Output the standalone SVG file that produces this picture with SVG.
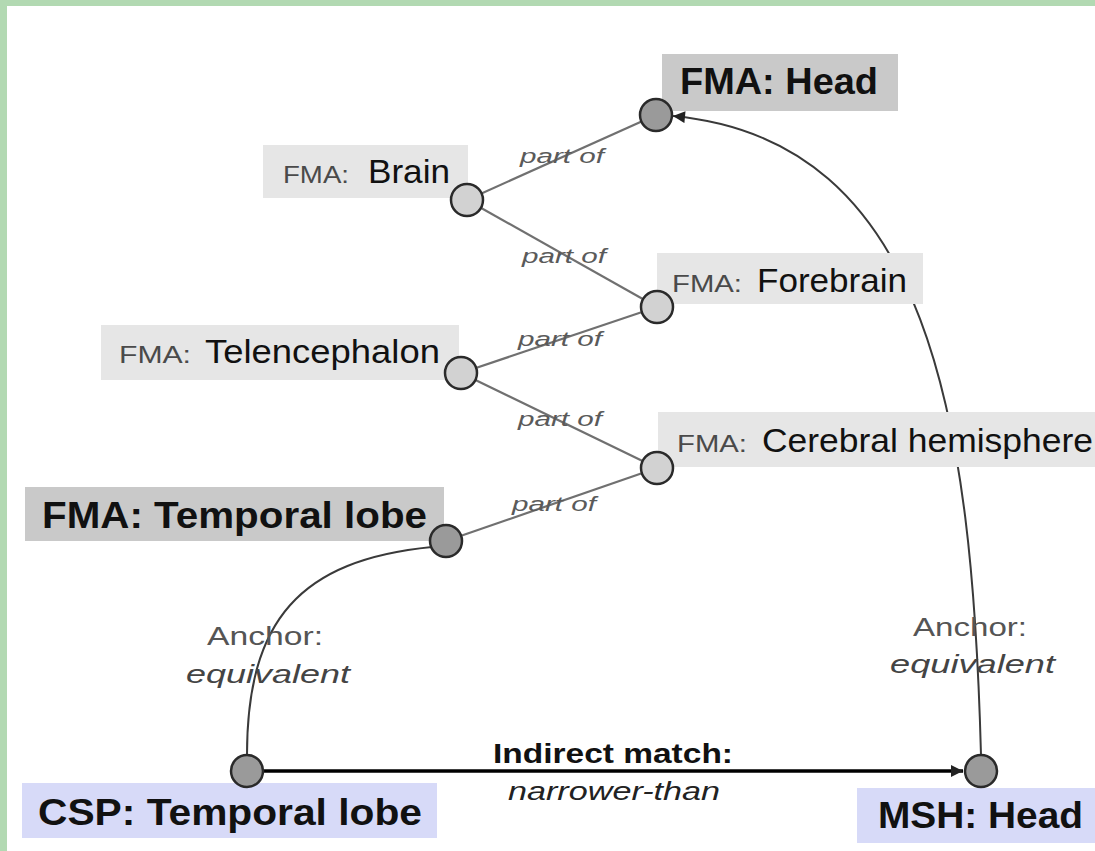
<svg xmlns="http://www.w3.org/2000/svg" width="1095" height="851" viewBox="0 0 1095 851">
  <style>
    text { font-family: "Liberation Sans", Arial, Helvetica, sans-serif; }
    .box-anchor { fill: #c9c9c9; }
    .box-fma { fill: #e6e6e6; }
    .box-src { fill: #d7daf8; }
    .dot-dark { fill: #9a9a9a; stroke: #2a2a2a; stroke-width: 2.5; }
    .dot-light { fill: #d2d2d2; stroke: #2a2a2a; stroke-width: 2.5; }
    .t-big { font-size: 36px; font-weight: bold; fill: #111; }
    .t-pre { font-size: 23px; fill: #4a4a4a; }
    .t-main { font-size: 34px; fill: #111; }
    .partof { stroke: #707070; stroke-width: 2.2; fill: none; }
    .anchor { stroke: #3a3a3a; stroke-width: 2; fill: none; }
    .match { stroke: #000; stroke-width: 3.5; fill: none; }
    .elbl { font-size: 20px; font-style: italic; fill: #5a5a5a; }
    .albl { font-size: 26px; fill: #555; }
    .albl-i { font-size: 26px; font-style: italic; fill: #444; }
    .mlbl { font-size: 27px; font-weight: bold; fill: #111; }
    .mlbl-i { font-size: 26px; font-style: italic; fill: #222; }
  </style>
  <defs>
    <marker id="arrow" viewBox="0 0 10 10" refX="10" refY="5" markerUnits="userSpaceOnUse" markerWidth="14" markerHeight="12" orient="auto">
      <path d="M0,0 L10,5 L0,10 z" fill="#222"/>
    </marker>
  </defs>

  <!-- page frame -->
  <rect x="0" y="0" width="1095" height="851" fill="#b2d9b2"/>
  <rect x="7" y="6" width="1088" height="845" fill="#ffffff"/>

  <!-- connectors -->
  <g id="connectors">
    <line class="partof" x1="467" y1="200" x2="656" y2="115"/>
    <line class="partof" x1="467" y1="200" x2="657" y2="307"/>
    <line class="partof" x1="461" y1="373" x2="657" y2="307"/>
    <line class="partof" x1="461" y1="373" x2="657" y2="468"/>
    <line class="partof" x1="446" y1="541" x2="657" y2="468"/>
    <path class="anchor" d="M247,755 C247,620 300,560 432,547"/>
    <path class="anchor" d="M981,755 C972,420 930,140 673,116" marker-end="url(#arrow)"/>
    <line class="match" x1="264" y1="771" x2="963" y2="771" marker-end="url(#arrow)"/>

    <text class="elbl" x="520" y="163" textLength="84" lengthAdjust="spacingAndGlyphs">part of</text>
    <text class="elbl" x="522" y="263" textLength="84" lengthAdjust="spacingAndGlyphs">part of</text>
    <text class="elbl" x="518" y="346" textLength="84" lengthAdjust="spacingAndGlyphs">part of</text>
    <text class="elbl" x="518" y="426" textLength="84" lengthAdjust="spacingAndGlyphs">part of</text>
    <text class="elbl" x="512" y="511" textLength="84" lengthAdjust="spacingAndGlyphs">part of</text>

    <text class="albl" x="207" y="645" textLength="116" lengthAdjust="spacingAndGlyphs">Anchor:</text>
    <text class="albl-i" x="186" y="683" textLength="164" lengthAdjust="spacingAndGlyphs">equivalent</text>
    <text class="albl" x="913" y="636" textLength="114" lengthAdjust="spacingAndGlyphs">Anchor:</text>
    <text class="albl-i" x="890" y="673" textLength="165" lengthAdjust="spacingAndGlyphs">equivalent</text>

    <text class="mlbl" x="493" y="763" textLength="240" lengthAdjust="spacingAndGlyphs">Indirect match:</text>
    <text class="mlbl-i" x="508" y="800" textLength="212" lengthAdjust="spacingAndGlyphs">narrower-than</text>
  </g>

  <!-- FMA nodes -->
  <g id="fma-head">
    <rect class="box-anchor" x="662" y="54" width="236" height="57"/>
    <text class="t-big" x="680" y="94" textLength="198" lengthAdjust="spacingAndGlyphs">FMA: Head</text>
    <circle class="dot-dark" cx="656" cy="115" r="16"/>
  </g>

  <g id="fma-brain">
    <rect class="box-fma" x="263" y="145" width="205" height="53"/>
    <text class="t-pre" x="283" y="183" textLength="66" lengthAdjust="spacingAndGlyphs">FMA:</text>
    <text class="t-main" x="368" y="183" textLength="82" lengthAdjust="spacingAndGlyphs">Brain</text>
    <circle class="dot-light" cx="467" cy="200" r="16"/>
  </g>

  <g id="fma-forebrain">
    <rect class="box-fma" x="657" y="253" width="266" height="51"/>
    <text class="t-pre" x="672" y="292" textLength="70" lengthAdjust="spacingAndGlyphs">FMA:</text>
    <text class="t-main" x="757" y="292" textLength="150" lengthAdjust="spacingAndGlyphs">Forebrain</text>
    <circle class="dot-light" cx="657" cy="307" r="16"/>
  </g>

  <g id="fma-telencephalon">
    <rect class="box-fma" x="101" y="325" width="358" height="55"/>
    <text class="t-pre" x="119" y="363" textLength="72" lengthAdjust="spacingAndGlyphs">FMA:</text>
    <text class="t-main" x="205" y="363" textLength="235" lengthAdjust="spacingAndGlyphs">Telencephalon</text>
    <circle class="dot-light" cx="461" cy="373" r="16"/>
  </g>

  <g id="fma-cerebral-hemisphere">
    <rect class="box-fma" x="658" y="412" width="437" height="55"/>
    <text class="t-pre" x="677" y="452" textLength="70" lengthAdjust="spacingAndGlyphs">FMA:</text>
    <text class="t-main" x="762" y="452" textLength="331" lengthAdjust="spacingAndGlyphs">Cerebral hemisphere</text>
    <circle class="dot-light" cx="657" cy="468" r="16"/>
  </g>

  <g id="fma-temporal-lobe">
    <rect class="box-anchor" x="25" y="487" width="419" height="54"/>
    <text class="t-big" x="42" y="528" textLength="385" lengthAdjust="spacingAndGlyphs">FMA: Temporal lobe</text>
    <circle class="dot-dark" cx="446" cy="541" r="16"/>
  </g>

  <!-- source and target terms -->
  <g id="csp-temporal-lobe">
    <rect class="box-src" x="22" y="783" width="415" height="55"/>
    <text class="t-big" x="38" y="825" textLength="384" lengthAdjust="spacingAndGlyphs">CSP: Temporal lobe</text>
    <circle class="dot-dark" cx="247" cy="771" r="16"/>
  </g>

  <g id="msh-head">
    <rect class="box-src" x="857" y="788" width="238" height="55"/>
    <text class="t-big" x="878" y="828" textLength="205" lengthAdjust="spacingAndGlyphs">MSH: Head</text>
    <circle class="dot-dark" cx="981" cy="771" r="16"/>
  </g>
</svg>
